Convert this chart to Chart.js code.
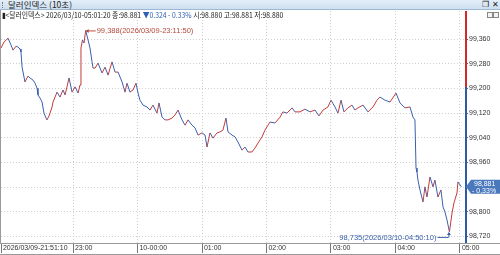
<!DOCTYPE html>
<html>
<head>
<meta charset="utf-8">
<script src="https://cdn.jsdelivr.net/npm/chart.js"></script>
<style>
body { margin: 0; width: 500px; height: 255px; overflow: hidden; background: #fff; position: relative; font-family: "Noto Sans CJK KR", sans-serif; }
#bar { position: absolute; left: 0; top: 0; width: 500px; height: 10px; background: linear-gradient(#e4eef8, #cddff1); border-bottom: 1px solid #9fb8d3; box-sizing: border-box; }
#grip { position: absolute; left: 2px; top: 2px; width: 1px; height: 6px; border-left: 1px dotted #777; }
#title { position: absolute; left: 8px; top: 0; font-size: 8.5px; line-height: 9px; color: #222; }
.ic { position: absolute; top: 1px; font-size: 8px; line-height: 8px; font-weight: bold; color: #222; font-family: "DejaVu Sans", sans-serif; }
#info { position: absolute; left: 2px; top: 10px; font-size: 8px; line-height: 9px; white-space: nowrap; color: #222; transform-origin: 0 0; display: inline-block; }
#info .dn { color: #2f5fb3; }
.box { position: absolute; top: 12px; width: 4px; height: 4px; border: 1px solid #888; background: #f4f4f4; }
#wrap { position: absolute; left: 0; top: 10px; width: 500px; height: 245px; }
</style>
</head>
<body>
<div id="bar"><div id="grip"></div><div id="title">달러인덱스 (10초)</div>
<div class="ic" style="left:482px">❐</div><div class="ic" style="left:492px">✕</div></div>
<div id="wrap"><canvas id="c" width="500" height="245"></canvas></div>
<div id="info">▮&lt;달러인덱스&gt; 2026/03/10-05:01:20 종:98.881 <span class="dn">▼0.324 - 0.33%</span> 시:98.880 고:98.881 저:98.880</div>
<div class="box" style="left:487px"></div><div class="box" style="left:493px"></div>
<script>
// minutes from 2026/03/10 00:00 (negative = 03/09 evening)
const times = [-127, -124.2, -120.5, -117.7, -115.8, -113.0, -111.2, -109.3, -108.4, -107.4,
  -104.7, -101.9, -100.0, -97.2, -95.3, -93.5, -92.6, -90.7, -88.8, -87.0,
  -85.1, -84.2, -82.3, -81.4, -79.5, -78.6, -76.7, -74.9, -72.1, -69.3,
  -67.4, -65.6, -63.7, -60.9, -58.1, -55.3, -53.5, -52.6, -51.2, -49.8,
  -48.2, -44.2, -42.3, -41.4, -39.5, -36.7, -33.0, -30.2, -27.4, -23.7,
  -20.9, -18.1, -14.4, -11.6, -9.8, -7.0, -4.2, -1.4, 0.5, 2.3,
  5.1, 8.8, 11.6, 14.4, 18.1, 20.0, 22.8, 25.6, 28.4, 32.1,
  34.9, 37.7, 41.4, 44.2, 47.0, 50.7, 53.5, 56.3, 60.0, 62.8,
  64.7, 67.4, 70.2, 74.0, 76.7, 79.5, 82.3, 84.2, 87.9, 90.7,
  93.5, 97.2, 100.0, 102.8, 106.5, 109.3, 112.1, 115.8, 118.6, 121.4,
  123.3, 127.9, 132.6, 135.3, 139.1, 143.7, 146.5, 151.2, 155.8, 160.5,
  165.1, 168.8, 172.6, 177.2, 180.0, 183.7, 186.5, 189.3, 192.1, 195.8,
  199.5, 202.3, 205.1, 209.8, 214.4, 219.1, 222.8, 225.6, 230.2, 234.9,
  240.5, 244.2, 248.8, 253.5, 256.3, 258.1, 259.1, 260.0, 260.9, 262.8,
  265.6, 267.4, 269.3, 272.1, 274.9, 276.7, 279.5, 282.3, 284.2, 286.0,
  287.9, 290.2, 292.6, 294.4, 297.2, 298.1, 301.3];
const prices = [99.331, 99.350, 99.363, 99.341, 99.324, 99.337, 99.334, 99.328, 99.318, 99.269,
  99.221, 99.240, 99.234, 99.227, 99.217, 99.201, 99.179, 99.169, 99.156, 99.120,
  99.104, 99.098, 99.111, 99.120, 99.140, 99.156, 99.172, 99.188, 99.172, 99.195,
  99.179, 99.205, 99.234, 99.188, 99.205, 99.185, 99.211, 99.331, 99.357, 99.347,
  99.388, 99.331, 99.286, 99.266, 99.266, 99.282, 99.250, 99.269, 99.243, 99.286,
  99.253, 99.253, 99.221, 99.188, 99.217, 99.188, 99.195, 99.217, 99.185, 99.162,
  99.146, 99.140, 99.130, 99.146, 99.120, 99.153, 99.107, 99.098, 99.098, 99.104,
  99.114, 99.130, 99.098, 99.081, 99.098, 99.081, 99.072, 99.049, 99.056, 99.049,
  99.010, 99.056, 99.039, 99.056, 99.059, 99.065, 99.104, 99.059, 99.049, 99.043,
  99.026, 99.000, 99.010, 98.994, 98.994, 99.007, 99.023, 99.043, 99.065, 99.081,
  99.091, 99.088, 99.107, 99.124, 99.120, 99.137, 99.124, 99.124, 99.133, 99.124,
  99.130, 99.111, 99.130, 99.140, 99.162, 99.140, 99.120, 99.162, 99.124, 99.137,
  99.146, 99.130, 99.137, 99.146, 99.124, 99.140, 99.162, 99.172, 99.162, 99.156,
  99.185, 99.153, 99.137, 99.140, 99.107, 99.098, 98.942, 98.929, 98.903, 98.871,
  98.832, 98.881, 98.848, 98.913, 98.881, 98.903, 98.848, 98.871, 98.816, 98.800,
  98.774, 98.735, 98.796, 98.829, 98.861, 98.897, 98.881];
const xTicks = [-127, -60, 0, 60, 120, 180, 240, 300];
const xTickLabels = ['2026/03/09-21:51:10', '23:00', '10-00:00', '01:00', '02:00', '03:00', '04:00', '05:00'];
const yTicks = [98.72, 98.80, 98.88, 98.96, 99.04, 99.12, 99.20, 99.28, 99.36];
const prevClose = 99.205;
const maxTime = '2026/03/09-23:11:50';
const minTime = '2026/03/10-04:50:10';
const changePct = '- 0,33%';

const UP = '#c23b3b', DOWN = '#3b5fae';
const NARROW = '"Liberation Sans", sans-serif';
const fmt = v => v.toFixed(3).replace('.', ',');

// squeeze the info line to the width seen in the reference
const info = document.getElementById('info');
info.style.transform = 'scaleX(' + (281 / info.offsetWidth) + ')';

const extras = {
  id: 'extras',
  afterDraw(chart) {
    const ctx = chart.ctx, a = chart.chartArea;
    const xs = chart.scales.x, ys = chart.scales.y;
    ctx.save();
    // bottom axis lines
    ctx.strokeStyle = '#9a9a9a';
    ctx.lineWidth = 1;
    ctx.beginPath();
    ctx.moveTo(0, a.bottom + 0.5); ctx.lineTo(500, a.bottom + 0.5);
    ctx.moveTo(0, 244.5); ctx.lineTo(500, 244.5);
    ctx.moveTo(0.5, 0); ctx.lineTo(0.5, a.bottom);
    ctx.stroke();
    // right axis, red above previous close, blue below
    const yp = ys.getPixelForValue(prevClose);
    ctx.lineWidth = 2;
    ctx.strokeStyle = '#d22a2a';
    ctx.beginPath(); ctx.moveTo(a.right, a.top); ctx.lineTo(a.right, yp); ctx.stroke();
    ctx.strokeStyle = '#2f5aa8';
    ctx.beginPath(); ctx.moveTo(a.right, yp); ctx.lineTo(a.right, a.bottom); ctx.stroke();

    // max / min annotations
    let hi = 0, lo = 0;
    prices.forEach((p, i) => { if (p > prices[hi]) hi = i; if (p < prices[lo]) lo = i; });
    ctx.font = '7.5px ' + NARROW;
    ctx.textBaseline = 'middle';
    let px = xs.getPixelForValue(times[hi]), py = ys.getPixelForValue(prices[hi]);
    ctx.strokeStyle = '#c0473a'; ctx.fillStyle = '#b5473a'; ctx.lineWidth = 1;
    ctx.beginPath(); ctx.moveTo(px + 1, py + 0.5); ctx.lineTo(px + 10, py + 0.5); ctx.stroke();
    ctx.beginPath(); ctx.moveTo(px, py + 0.5); ctx.lineTo(px + 3, py - 1.5); ctx.lineTo(px + 3, py + 2.5); ctx.fill();
    ctx.textAlign = 'left';
    ctx.fillText(fmt(prices[hi]) + '(' + maxTime + ')', px + 11, py + 1);

    px = xs.getPixelForValue(times[lo]); py = ys.getPixelForValue(prices[lo]);
    ctx.strokeStyle = '#3a5fa8'; ctx.fillStyle = '#3a5fa8';
    const ty = py + 5;
    ctx.beginPath(); ctx.moveTo(px - 12, ty + 0.5); ctx.lineTo(px - 1, ty + 0.5);
    ctx.moveTo(px - 0.5, ty + 0.5); ctx.lineTo(px - 0.5, py + 1); ctx.stroke();
    ctx.beginPath(); ctx.moveTo(px - 0.5, py); ctx.lineTo(px - 2.5, py + 3); ctx.lineTo(px + 1.5, py + 3); ctx.fill();
    ctx.textAlign = 'right';
    ctx.fillText(fmt(prices[lo]) + '(' + minTime + ')', px - 13, ty + 1);

    // current price box
    const last = prices[prices.length - 1];
    const cy = ys.getPixelForValue(last);
    ctx.fillStyle = '#4a78bd';
    ctx.beginPath();
    ctx.moveTo(a.right, cy); ctx.lineTo(a.right + 5, cy - 7); ctx.lineTo(500, cy - 7);
    ctx.lineTo(500, cy + 7); ctx.lineTo(a.right + 5, cy + 7); ctx.closePath(); ctx.fill();
    ctx.fillStyle = '#fff';
    ctx.textAlign = 'left';
    ctx.font = '7px ' + NARROW;
    ctx.fillText(fmt(last), a.right + 8, cy - 3);
    ctx.fillText(changePct, a.right + 6, cy + 4);
    ctx.restore();
  }
};

new Chart(document.getElementById('c'), {
  type: 'line',
  data: {
    datasets: [{
      data: times.map((t, i) => ({ x: t, y: prices[i] })),
      borderWidth: 1,
      pointRadius: 0,
      tension: 0,
      borderColor: DOWN,
      segment: {
        borderColor: c => c.p1.parsed.y >= c.p0.parsed.y ? UP : DOWN
      }
    }]
  },
  options: {
    responsive: false,
    animation: false,
    layout: { padding: { left: 1, top: 1, right: 0, bottom: 0 } },
    plugins: { legend: { display: false }, tooltip: { enabled: false } },
    scales: {
      x: {
        type: 'linear',
        min: -127,
        max: 305.6,
        afterBuildTicks: s => { s.ticks = xTicks.map(v => ({ value: v })); },
        afterFit: s => { s.height = 12; s.paddingLeft = 0; s.paddingRight = 0; },
        ticks: {
          autoSkip: false, maxRotation: 0, align: 'start', padding: -9,
          color: '#333', font: { family: NARROW, size: 7 },
          callback: (v, i) => ' ' + xTickLabels[i]
        },
        grid: {
          color: c => c.index === 0 ? 'rgba(0,0,0,0)' : '#cfcfcf',
          tickColor: '#777', tickLength: 10
        },
        border: { display: false, dash: [1, 2] }
      },
      y: {
        position: 'right',
        min: 98.699,
        max: 99.451,
        afterBuildTicks: s => { s.ticks = yTicks.map(v => ({ value: v })); },
        afterFit: s => { s.width = 34; s.paddingTop = 0; s.paddingBottom = 0; },
        ticks: {
          padding: 1, color: '#333', font: { family: NARROW, size: 7 },
          callback: v => fmt(v)
        },
        grid: { color: '#cfcfcf', tickColor: '#666', tickLength: 2 },
        border: { display: false, dash: [1, 2] }
      }
    }
  },
  plugins: [extras]
});
</script>
</body>
</html>
